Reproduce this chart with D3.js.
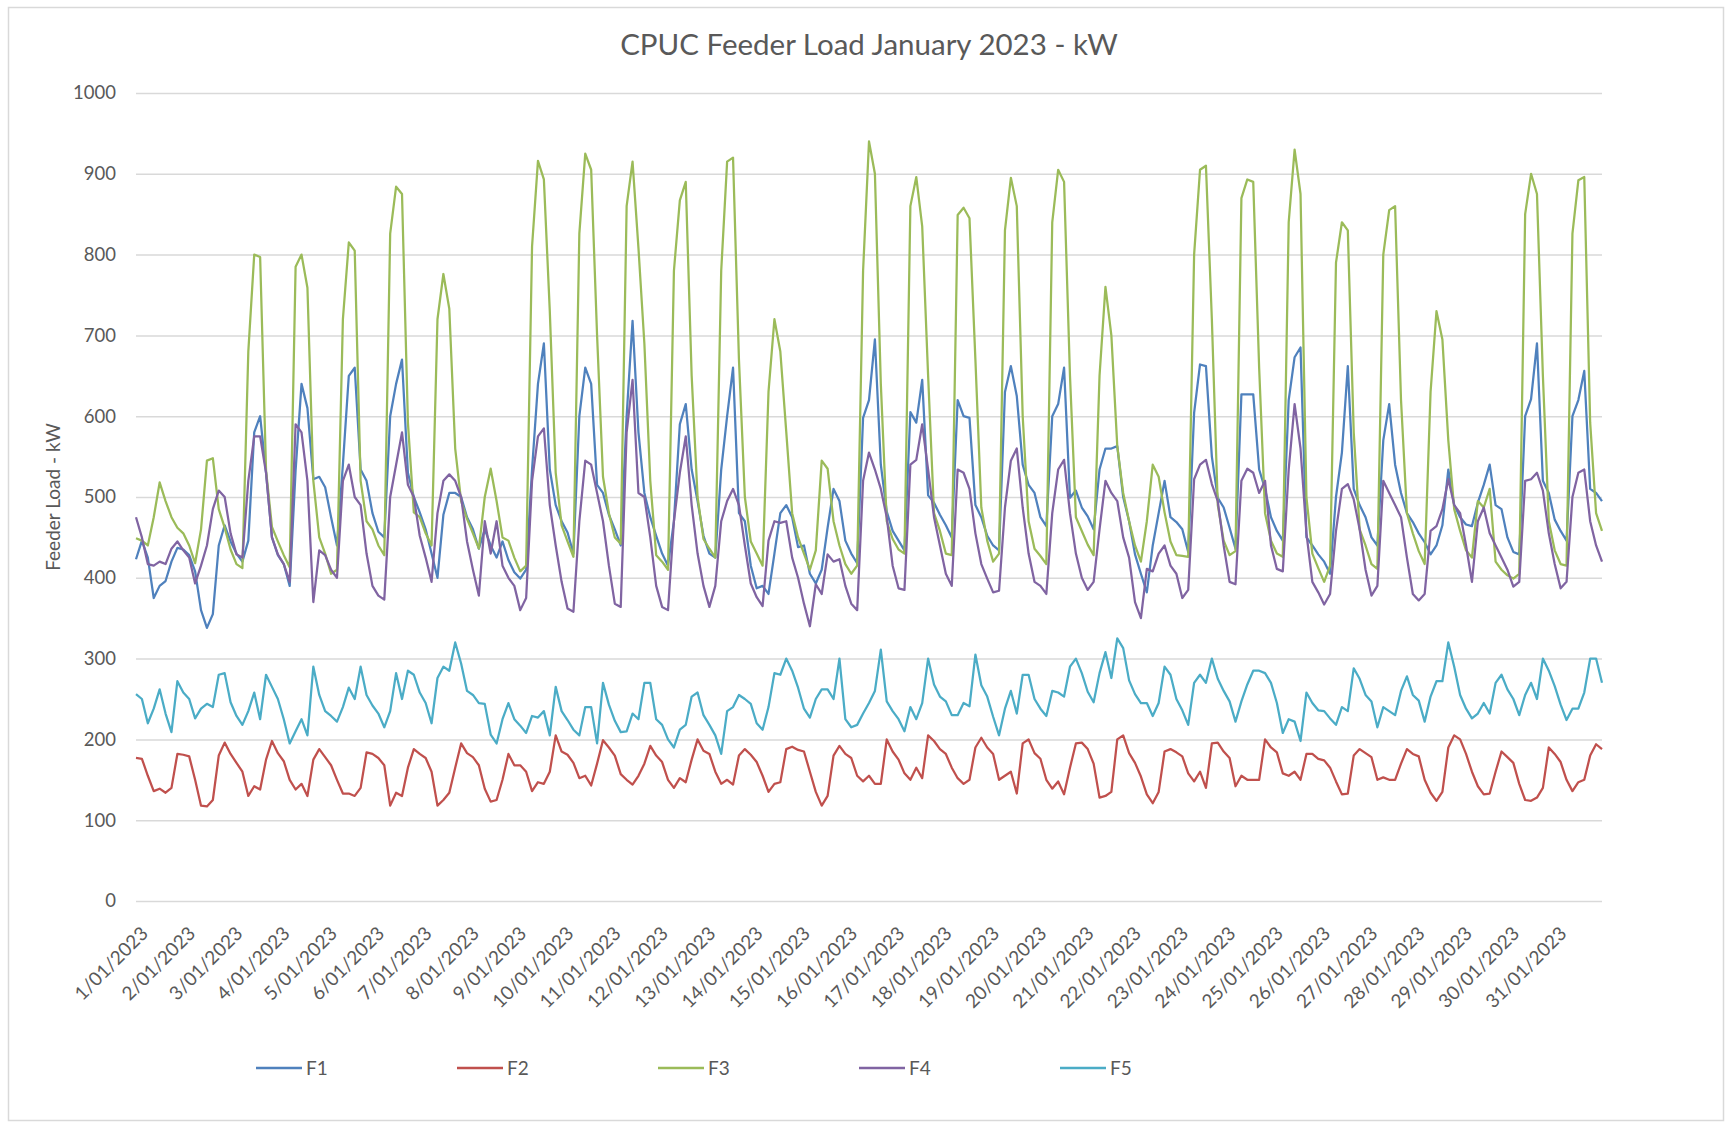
<!DOCTYPE html>
<html>
<head>
<meta charset="utf-8">
<script src="https://cdn.jsdelivr.net/npm/d3@7"></script>
<style>
  body { margin: 0; background: #fff; }
  svg text { font-family: Lato, "Open Sans", sans-serif; fill: #595959; }
</style>
</head>
<body>
<svg id="chart" width="1732" height="1128"></svg>
<script>
// categories: one label per day, readings every 3 hours
const dayLabels = ["1/01/2023", "2/01/2023", "3/01/2023", "4/01/2023", "5/01/2023", "6/01/2023", "7/01/2023",
  "8/01/2023", "9/01/2023", "10/01/2023", "11/01/2023", "12/01/2023", "13/01/2023", "14/01/2023",
  "15/01/2023", "16/01/2023", "17/01/2023", "18/01/2023", "19/01/2023", "20/01/2023", "21/01/2023",
  "22/01/2023", "23/01/2023", "24/01/2023", "25/01/2023", "26/01/2023", "27/01/2023", "28/01/2023",
  "29/01/2023", "30/01/2023", "31/01/2023"];
const stepHours = 3;
const yTicks = [0, 100, 200, 300, 400, 500, 600, 700, 800, 900, 1000];
const seriesNames = ["F1", "F2", "F3", "F4", "F5"];

// kW, 8 readings per day (00,03,...,21h) + final reading
const f1 = [
  423, 446, 425, 375, 390, 396, 420, 437,
  435, 428, 408, 360, 338, 355, 440, 465,
  445, 430, 420, 446, 580, 600, 530, 450,
  428, 417, 390, 533, 640, 610, 522, 525,
  512, 475, 440, 540, 650, 660, 534, 520,
  480, 457, 450, 600, 640, 670, 530, 500,
  481, 460, 430, 400, 478, 505, 505, 500,
  475, 460, 436, 460, 440, 425, 445, 422,
  407, 399, 410, 534, 640, 690, 534, 490,
  470, 456, 430, 600, 660, 640, 515, 505,
  478, 460, 440, 600, 718, 580, 505, 475,
  452, 430, 415, 470, 590, 615, 534, 495,
  452, 430, 425, 534, 600, 660, 480, 470,
  415, 387, 390, 380, 430, 480, 490, 475,
  438, 440, 405, 393, 410, 462, 510, 495,
  446, 430, 418, 598, 620, 695, 540, 482,
  458, 446, 434, 605, 592, 645, 502, 493,
  478, 465, 450, 620, 600, 598, 490, 475,
  452, 440, 434, 630, 662, 625, 540, 515,
  505, 475, 464, 600, 615, 660, 499, 508,
  487, 476, 460, 534, 560, 560, 563, 500,
  470, 429, 405, 382, 440, 480, 520, 475,
  469, 460, 432, 604, 664, 662, 550, 499,
  487, 462, 436, 627, 627, 627, 534, 510,
  475, 458, 446, 620, 673, 685, 450, 440,
  429, 420, 405, 500, 555, 662, 510, 490,
  475, 450, 440, 570, 615, 540, 505, 480,
  469, 455, 444, 429, 440, 465, 534, 490,
  475, 466, 464, 493, 515, 540, 490, 485,
  450, 432, 429, 600, 621, 690, 520, 505,
  472, 458, 446, 600, 620, 656, 510, 505,
  495];

const f2 = [
  177, 176, 155, 136, 139, 134, 140, 182,
  181, 179, 150, 118, 117, 125, 180, 196,
  182, 171, 160, 130, 142, 138, 175, 198,
  183, 173, 150, 138, 145, 130, 175, 188,
  178, 168, 150, 133, 133, 130, 140, 184,
  182, 177, 168, 118, 134, 130, 165, 188,
  182, 177, 160, 118, 125, 134, 165, 195,
  183, 178, 168, 139, 123, 125, 150, 182,
  168, 168, 160, 136, 147, 145, 160, 205,
  185, 181, 171, 152, 155, 143, 170, 199,
  190, 180, 157, 150, 144, 155, 170, 192,
  180, 172, 150, 140, 152, 147, 175, 200,
  186, 182, 160, 145, 150, 144, 180, 188,
  181, 172, 155, 135, 145, 147, 188, 191,
  187, 185, 160, 135, 118, 130, 180, 192,
  182, 177, 155, 148, 155, 145, 145, 200,
  185, 175, 158, 150, 165, 152, 205, 198,
  188, 182, 165, 152, 145, 150, 190, 202,
  190, 182, 150, 155, 160, 133, 195, 200,
  183, 176, 150, 139, 148, 132, 165, 195,
  196, 188, 170, 128, 130, 135, 200, 205,
  183, 171, 154, 132, 121, 135, 185, 188,
  184, 179, 158, 148, 160, 140, 195, 196,
  185, 177, 142, 155, 150, 150, 150, 200,
  190, 184, 158, 155, 160, 150, 182, 182,
  176, 174, 165, 148, 132, 133, 180, 188,
  183, 178, 150, 153, 150, 150, 170, 188,
  182, 179, 150, 134, 124, 135, 190, 205,
  200, 182, 160, 142, 132, 133, 160, 185,
  178, 171, 145, 125, 124, 128, 140, 190,
  182, 172, 150, 136, 147, 150, 180, 194,
  188];

const f3 = [
  449, 446, 440, 475, 518, 495, 475, 462,
  455, 440, 418, 460, 545, 548, 485, 462,
  435, 417, 412, 680, 800, 797, 533, 463,
  445, 428, 413, 785, 800, 759, 520, 450,
  430, 405, 410, 720, 815, 805, 520, 470,
  460, 440, 428, 826, 884, 875, 592, 481,
  475, 455, 440, 720, 776, 733, 560, 495,
  473, 455, 436, 500, 535, 495, 450, 446,
  425, 408, 415, 810, 916, 893, 730, 530,
  465, 445, 426, 826, 925, 905, 700, 525,
  480, 450, 442, 860, 915, 808, 690, 520,
  428, 420, 410, 780, 867, 890, 650, 500,
  448, 436, 425, 780, 915, 920, 670, 500,
  445, 430, 415, 630, 720, 680, 581, 480,
  450, 430, 410, 434, 545, 535, 470, 440,
  417, 405, 415, 780, 940, 900, 640, 470,
  448, 435, 430, 860, 896, 835, 650, 480,
  458, 430, 428, 849, 858, 845, 670, 487,
  446, 420, 430, 830, 895, 860, 600, 470,
  436, 427, 417, 840, 905, 890, 650, 475,
  458, 441, 428, 650, 760, 700, 563, 505,
  470, 440, 420, 470, 540, 525, 481, 445,
  428, 427, 426, 800, 905, 910, 720, 490,
  446, 428, 433, 870, 893, 890, 660, 480,
  446, 430, 426, 840, 930, 875, 500, 430,
  412, 395, 415, 790, 840, 830, 580, 460,
  440, 417, 411, 800, 855, 860, 620, 480,
  455, 433, 417, 630, 730, 695, 570, 485,
  458, 434, 425, 495, 487, 510, 420, 410,
  403, 399, 405, 850, 900, 875, 650, 470,
  434, 417, 415, 826, 892, 896, 592, 480,
  458];

const f4 = [
  475, 450, 417, 415, 420, 417, 436, 445,
  434, 425, 393, 415, 440, 485, 508, 500,
  455, 429, 425, 520, 575, 575, 530, 450,
  429, 417, 395, 590, 580, 520, 370, 434,
  428, 410, 400, 520, 540, 500, 490, 430,
  390, 378, 373, 500, 540, 580, 515, 500,
  452, 425, 395, 480, 520, 528, 520, 500,
  445, 410, 378, 470, 430, 470, 415, 400,
  390, 360, 375, 520, 575, 585, 490, 440,
  395, 362, 358, 470, 545, 540, 505, 470,
  415, 368, 364, 580, 645, 505, 500, 450,
  390, 364, 360, 470, 530, 575, 490, 430,
  390, 364, 390, 470, 495, 510, 490, 440,
  393, 376, 365, 446, 470, 468, 470, 425,
  400, 368, 340, 392, 380, 429, 420, 423,
  390, 368, 360, 520, 555, 534, 510, 475,
  415, 387, 385, 540, 546, 590, 534, 475,
  440, 405, 390, 534, 530, 510, 455, 417,
  399, 382, 384, 487, 545, 560, 487, 430,
  395, 390, 380, 480, 534, 546, 480, 430,
  400, 385, 395, 460, 520, 505, 495, 450,
  425, 370, 350, 411, 408, 430, 440, 415,
  405, 375, 385, 522, 540, 546, 516, 495,
  440, 395, 392, 520, 535, 530, 505, 520,
  440, 411, 408, 534, 615, 560, 455, 395,
  382, 367, 380, 458, 510, 516, 497, 460,
  410, 378, 390, 520, 505, 490, 475, 425,
  380, 372, 380, 458, 464, 485, 522, 490,
  480, 440, 395, 470, 487, 455, 440, 425,
  410, 389, 395, 520, 522, 530, 508, 455,
  417, 387, 395, 500, 530, 534, 470, 440,
  420];

const f5 = [
  256, 250, 220, 238, 262, 232, 209, 272,
  258, 250, 226, 238, 244, 240, 280, 282,
  246, 229, 218, 235, 258, 225, 280, 265,
  250, 225, 195, 210, 225, 205, 290, 255,
  235, 229, 222, 240, 264, 250, 290, 255,
  242, 232, 215, 235, 282, 250, 285, 280,
  258, 245, 220, 276, 290, 285, 320, 294,
  260, 255, 245, 244, 206, 195, 225, 245,
  225, 217, 208, 229, 227, 235, 205, 265,
  235, 224, 212, 205, 240, 240, 195, 270,
  243, 223, 209, 210, 232, 225, 270, 270,
  225, 218, 200, 190, 212, 218, 253, 258,
  230, 218, 205, 182, 235, 240, 255, 250,
  244, 220, 212, 240, 282, 280, 300, 285,
  264, 238, 227, 250, 262, 262, 250, 300,
  225, 215, 218, 232, 245, 260, 311, 247,
  235, 225, 210, 240, 225, 245, 300, 268,
  253, 247, 230, 230, 245, 241, 305, 267,
  253, 228, 205, 238, 260, 232, 280, 280,
  250, 238, 229, 260, 258, 253, 290, 300,
  282, 259, 246, 282, 308, 276, 325, 313,
  273, 256, 245, 245, 229, 245, 290, 280,
  250, 236, 218, 270, 280, 270, 300, 275,
  260, 247, 222, 247, 268, 285, 285, 282,
  270, 245, 208, 225, 222, 198, 258, 245,
  236, 235, 226, 218, 240, 235, 288, 275,
  255, 247, 215, 240, 235, 230, 260, 278,
  255, 248, 222, 253, 272, 272, 320, 290,
  255, 238, 226, 232, 245, 232, 270, 280,
  262, 250, 230, 255, 270, 250, 300, 285,
  266, 243, 224, 238, 238, 258, 300, 300,
  270];

const colors = ["#4f81bd", "#c0504d", "#9bbb59", "#8064a2", "#4bacc6"];
const series = [f1, f2, f3, f4, f5].map((values, i) => ({ name: seriesNames[i], values, color: colors[i] }));

const svg = d3.select("#chart");
const W = +svg.attr("width"), H = +svg.attr("height");
const plot = { left: 136, right: 1602, top: 93, bottom: 901 };

const x = d3.scaleLinear().domain([0, dayLabels.length * 24]).range([plot.left, plot.right]);
const y = d3.scaleLinear().domain([0, 1000]).range([plot.bottom, plot.top]);

// chart border
svg.append("rect")
  .attr("x", 8.5).attr("y", 7.5)
  .attr("width", W - 17).attr("height", H - 15)
  .attr("fill", "#fff")
  .attr("stroke", "#d9d9d9").attr("stroke-width", 1.5);

// title
svg.append("text")
  .attr("x", (plot.left + plot.right) / 2).attr("y", 55)
  .attr("text-anchor", "middle")
  .style("font-size", "29.5px")
  .text("CPUC Feeder Load January 2023 - kW");

// y axis with gridlines
const yAxis = svg.append("g")
  .attr("transform", `translate(${plot.left},0)`)
  .call(d3.axisLeft(y).tickValues(yTicks).tickFormat(d3.format("d"))
    .tickSize(-(plot.right - plot.left)).tickPadding(20));
yAxis.select(".domain").remove();
yAxis.selectAll(".tick line").attr("stroke", "#d9d9d9").attr("stroke-width", 1.5);
yAxis.selectAll(".tick text").style("font-size", "18.5px");

svg.append("text")
  .attr("transform", `translate(53,${(plot.top + plot.bottom) / 2}) rotate(-90)`)
  .attr("text-anchor", "middle")
  .attr("dy", "0.35em")
  .style("font-size", "19px")
  .text("Feeder Load - kW");

// x axis: day labels at -45 degrees
const xAxis = svg.append("g")
  .attr("transform", `translate(0,${plot.bottom})`)
  .call(d3.axisBottom(x)
    .tickValues(dayLabels.map((d, i) => i * 24))
    .tickSize(0)
    .tickFormat((d, i) => dayLabels[i]));
xAxis.select(".domain").remove();
xAxis.selectAll(".tick text")
  .attr("y", 0).attr("dy", "0.35em")
  .attr("transform", "translate(8,29) rotate(-45)")
  .style("text-anchor", "end")
  .style("font-size", "19px");

// lines
const line = d3.line()
  .x((d, i) => x(i * stepHours))
  .y(d => y(d));

svg.append("g").selectAll("path")
  .data(series)
  .join("path")
  .attr("d", d => line(d.values))
  .attr("fill", "none")
  .attr("stroke", d => d.color)
  .attr("stroke-width", 2.25)
  .attr("stroke-linejoin", "round");

// legend
const legend = svg.append("g").attr("transform", "translate(256,1068)");
const item = legend.selectAll("g")
  .data(series)
  .join("g")
  .attr("transform", (d, i) => `translate(${i * 201},0)`);
item.append("line")
  .attr("x1", 0).attr("x2", 46)
  .attr("stroke", d => d.color).attr("stroke-width", 2.5);
item.append("text")
  .attr("x", 50).attr("dy", "0.35em")
  .style("font-size", "19px")
  .text(d => d.name);
</script>
</body>
</html>
